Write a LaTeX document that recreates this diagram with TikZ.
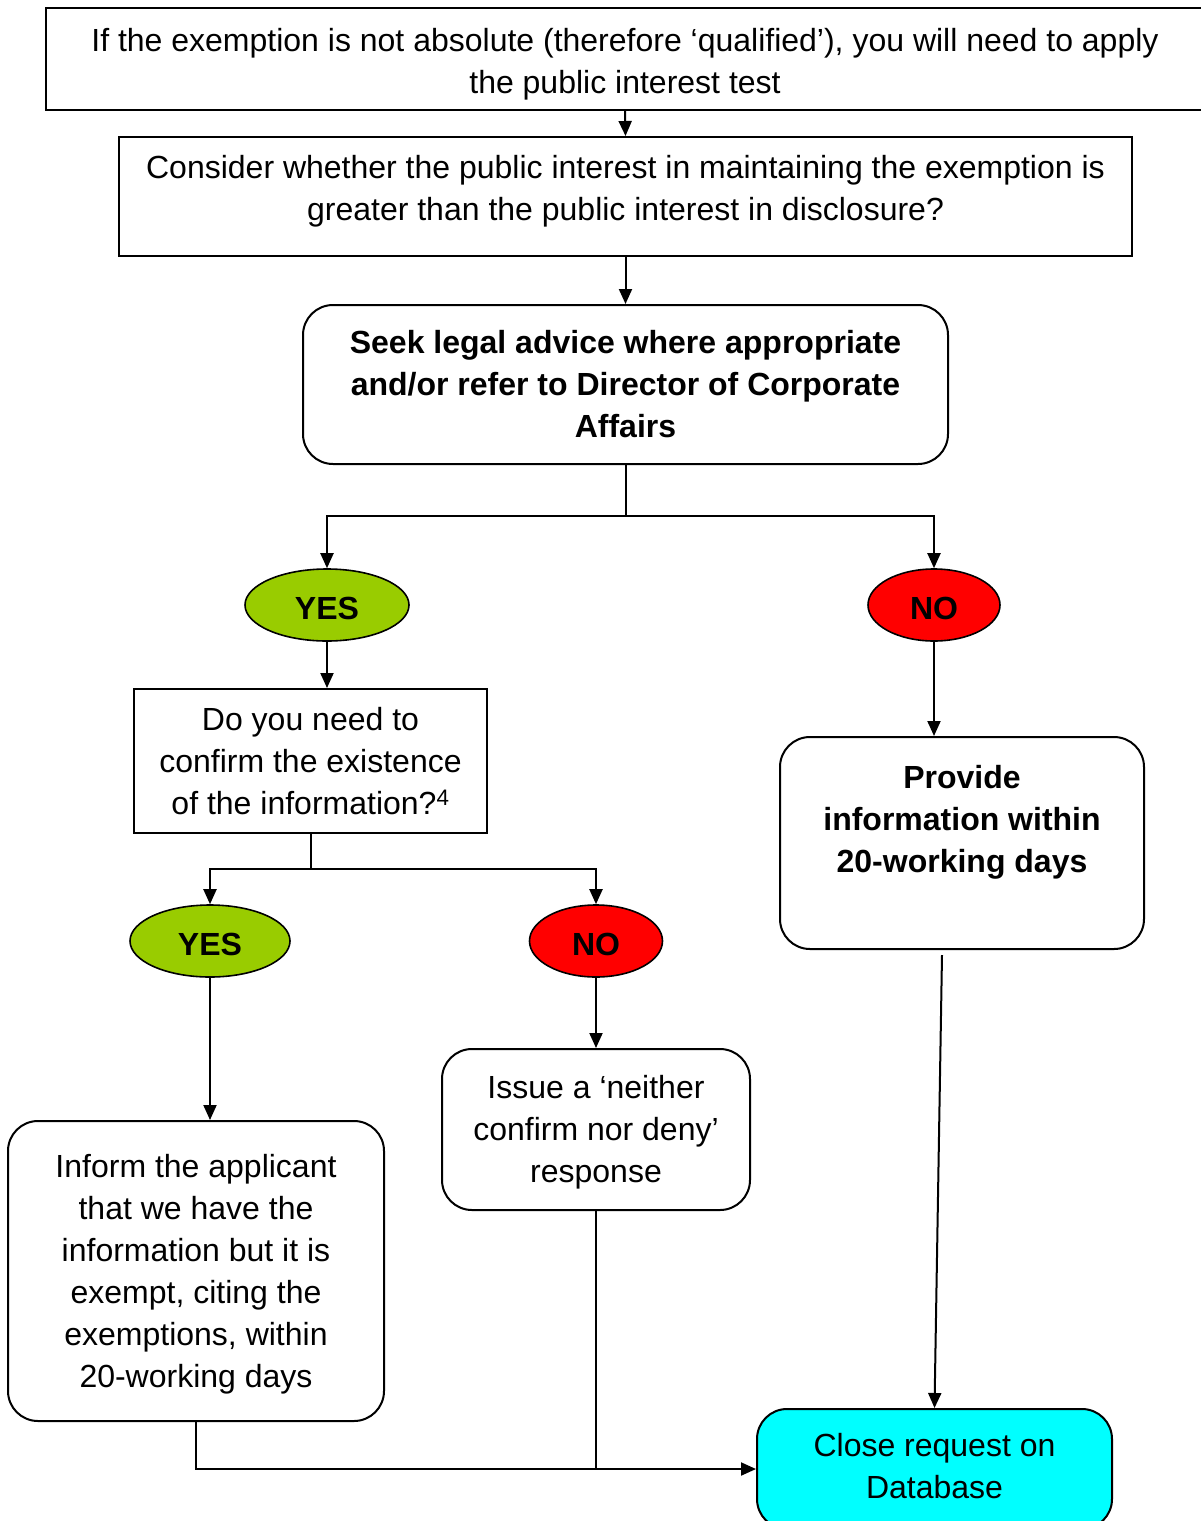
\documentclass[tikz,border=0pt]{standalone}
\usepackage{fontspec}
\setmainfont{Liberation Sans}
\usetikzlibrary{arrows.meta,shapes.geometric}
\definecolor{yesgreen}{HTML}{99CC00}
\definecolor{nored}{HTML}{FF0000}
\definecolor{closecyan}{HTML}{00FFFF}
\begin{document}
\begin{tikzpicture}[x=1pt,y=-1pt,
  every node/.style={font=\fontsize{32}{42}\selectfont, align=center, inner sep=0pt},
  sqbox/.style={draw, line width=2pt, rectangle},
  rbox/.style={draw, line width=2pt, rectangle, rounded corners=30pt},
  oval/.style={draw, line width=1.6pt, ellipse, text height=29pt, text depth=0pt, font=\fontsize{32}{42}\selectfont\bfseries},
  conn/.style={line width=2pt},
  arr/.style={conn, -{Triangle[length=15pt,width=13pt]}}
]
\useasboundingbox (0,0) rectangle (1200,1521);
\fill[white] (0,0) rectangle (1200,1521);

\node[sqbox, minimum width=1158pt, minimum height=102pt] (b1) at (625,59) {};
\node (b1t) at (625,64)
  {If the exemption is not absolute (therefore ‘qualified’), you will need to apply\\the public interest test};
\node[sqbox, minimum width=1013pt, minimum height=119pt] (b2) at (625.5,196.5) {};
\node (b2t) at (625.5,191)
  {Consider whether the public interest in maintaining the exemption is\\greater than the public interest in disclosure?};
\node[rbox, minimum width=645pt, minimum height=159pt, font=\fontsize{32}{42}\selectfont\bfseries] (b3) at (625.5,384.5)
  {Seek legal advice where appropriate\\and/or refer to Director of Corporate\\Affairs};

\node[oval, fill=yesgreen, minimum width=164pt, minimum height=72pt] (yes1) at (327,605) {YES};
\node[oval, fill=nored, minimum width=132pt, minimum height=72pt] (no1) at (934,605) {NO};

\node[sqbox, minimum width=353pt, minimum height=144pt] (b4) at (310.5,761)
  {Do you need to\\confirm the existence\\of the information?\textsuperscript{4}};

\node[oval, fill=yesgreen, minimum width=160pt, minimum height=72pt] (yes2) at (210,941) {YES};
\node[oval, fill=nored, minimum width=133pt, minimum height=72pt] (no2) at (596,941) {NO};

\node[rbox, minimum width=376pt, minimum height=300pt] (inform) at (196,1271) {};
\node (informt) at (196,1274)
  {Inform the applicant\\that we have the\\information but it is\\exempt, citing the\\exemptions, within\\20-working days};
\node[rbox, minimum width=308pt, minimum height=161pt] (issue) at (596,1129.5) {};
\node (issuet) at (596,1132.5)
  {Issue a ‘neither\\confirm nor deny’\\response};

\node[rbox, minimum width=364pt, minimum height=212pt] (provide) at (962,843) {};
\node[font=\fontsize{32}{42}\selectfont\bfseries] (providet) at (962,822)
  {Provide\\information within\\20-working days};

\node[rbox, fill=closecyan, minimum width=355pt, minimum height=120pt] (close) at (934.5,1469) {};
\node (closet) at (934.5,1466)
  {Close request on\\Database};

% connectors
\draw[arr] (b1.south) -- (b2.north);
\draw[arr] (b2.south) -- (b3.north);
\coordinate (s1) at (625.5,516);
\draw[conn] (b3.south) -- (s1);
\draw[arr] (s1) -| (yes1.north);
\draw[arr] (s1) -| (no1.north);
\draw[arr] (yes1.south) -- (yes1.south |- b4.north);
\coordinate (s2) at (310.5,869);
\draw[conn] (b4.south) -- (s2);
\draw[arr] (s2) -| (yes2.north);
\draw[arr] (s2) -| (no2.north);
\draw[arr] (yes2.south) -- (yes2.south |- inform.north);
\draw[arr] (no2.south) -- (issue.north);
\draw[arr] (no1.south) -- (no1.south |- provide.north);
\draw[arr] ([xshift=-20pt,yshift=-5pt]provide.south) -- (close.north);
\draw[arr] (inform.south) |- (close.west);
\draw[conn] (issue.south) -- (issue.south |- close.west);
\end{tikzpicture}
\end{document}
